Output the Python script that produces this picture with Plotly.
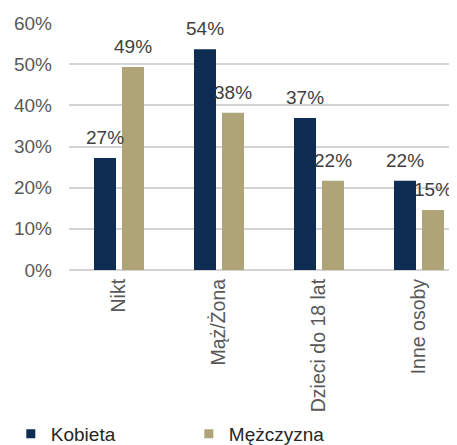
import plotly.graph_objects as go

categories = ["Nikt", "Mąż/Żona", "Dzieci do 18 lat", "Inne osoby"]
kobieta = [27.2, 53.6, 36.9, 21.7]
mezczyzna = [49.3, 38.2, 21.7, 14.6]
series_names = ["Kobieta", "Mężczyzna"]
y_ticks = [0, 10, 20, 30, 40, 50, 60]
y_tick_text = ["0%", "10%", "20%", "30%", "40%", "50%", "60%"]

NAVY = "#0f2d52"
TAN = "#afa478"
FONT = "Liberation Sans, Arial, sans-serif"
FS = 19

fig = go.Figure()
for vals, name, col in ((kobieta, series_names[0], NAVY), (mezczyzna, series_names[1], TAN)):
    fig.add_trace(go.Bar(x=categories, y=vals, name=name, legendgroup=name,
                         showlegend=False, marker=dict(color=col, line=dict(width=0))))
# legend entries with small square markers
for name, col in ((series_names[0], NAVY), (series_names[1], TAN)):
    fig.add_trace(go.Scatter(x=[None], y=[None], mode="markers", name=name,
                             legendgroup=name,
                             marker=dict(symbol="square", size=9, color=col)))

for vals, shift in ((kobieta, -14), (mezczyzna, 14)):
    for c, v in zip(categories, vals):
        fig.add_annotation(x=c, y=v, xref="x", yref="y", text=f"{round(v)}%",
                           showarrow=False, xshift=shift, yanchor="bottom",
                           yshift=8, font=dict(family=FONT, size=FS, color="#404040"))

# page body has an 8px default margin; figure sized to fill the remaining window
fig.update_layout(
    width=449, height=437,
    margin=dict(l=61, r=0, t=15, b=175, autoexpand=False),
    paper_bgcolor="white", plot_bgcolor="white",
    barmode="group", bargap=0.44, bargroupgap=0.214,
    font=dict(family=FONT, size=FS, color="#595959"),
    showlegend=True,
    legend=dict(orientation="h", x=-0.15, xanchor="left", y=-0.664, yanchor="middle",
                font=dict(family=FONT, size=FS, color="#262626"),
                entrywidth=133, entrywidthmode="pixels", itemwidth=30,
                traceorder="normal", bgcolor="rgba(0,0,0,0)"),
)
fig.update_xaxes(range=[-0.5, 3.38], tickangle=-90, showgrid=False, showline=False,
                 ticks="", automargin=False, ticklabelstandoff=4,
                 tickfont=dict(family=FONT, size=19.5, color="#595959"))
fig.update_yaxes(range=[0, 60], tickmode="array", tickvals=y_ticks, ticktext=y_tick_text,
                 showgrid=True, automargin=False,
                 gridcolor="#d4d4d4", gridwidth=1.5, zeroline=True,
                 zerolinecolor="#d4d4d4", zerolinewidth=1.5, ticks="",
                 ticklabelstandoff=16, showline=False,
                 tickfont=dict(family=FONT, size=FS, color="#595959"))

fig.write_html("out.html")
